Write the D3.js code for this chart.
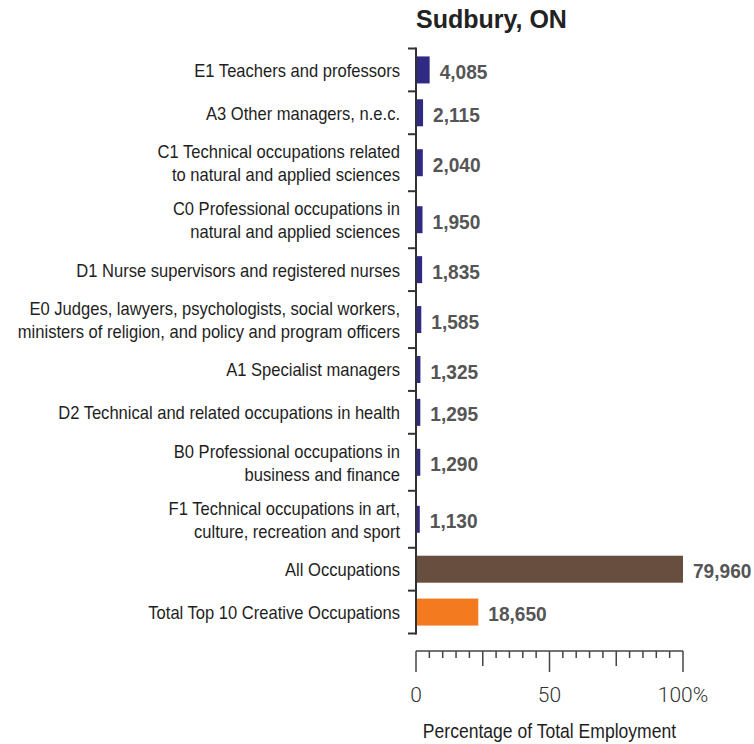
<!DOCTYPE html>
<html>
<head>
<meta charset="utf-8">
<script src="https://cdn.jsdelivr.net/npm/d3@7"></script>
<style>
  html, body { margin: 0; padding: 0; background: #fff; }
  svg { display: block; }
  .cat { font-family: "Liberation Sans", Arial, sans-serif; fill: #1e1e1e; }
  .val { font-family: "Liberation Sans", Arial, sans-serif; font-weight: bold; fill: #555; }
  .tick-label { font-family: Roboto, "Liberation Sans", sans-serif; font-weight: 300; fill: #333; }
</style>
</head>
<body>
<svg id="chart" width="754" height="744"></svg>
<script>
// Top creative occupations in Sudbury, ON (employment counts)
const categories = [
  "E1 Teachers and professors",
  "A3 Other managers, n.e.c.",
  "C1 Technical occupations related\nto natural and applied sciences",
  "C0 Professional occupations in\nnatural and applied sciences",
  "D1 Nurse supervisors and registered nurses",
  "E0 Judges, lawyers, psychologists, social workers,\nministers of religion, and policy and program officers",
  "A1 Specialist managers",
  "D2 Technical and related occupations in health",
  "B0 Professional occupations in\nbusiness and finance",
  "F1 Technical occupations in art,\nculture, recreation and sport",
  "All Occupations",
  "Total Top 10 Creative Occupations"
];
const employment = [4085, 2115, 2040, 1950, 1835, 1585, 1325, 1295, 1290, 1130, 79960, 18650];
const groups = ["occupation", "occupation", "occupation", "occupation", "occupation",
  "occupation", "occupation", "occupation", "occupation", "occupation", "all", "total"];
const xTicks = [0, 50, 100];
const title = "Sudbury, ON";
const xTitle = "Percentage of Total Employment";

const totalEmployment = employment[categories.indexOf("All Occupations")];

const svg = d3.select("#chart");
const x0 = 416, x1 = 683, yTop = 48.5, yBottom = 633.5;

const x = d3.scaleLinear().domain([0, 100]).range([x0, x1]);
const color = d3.scaleOrdinal()
  .domain(["occupation", "all", "total"])
  .range(["#302a85", "#674e3f", "#f47a20"]);

// Condensed lettering: horizontally squeezed text anchored at (tx, ty)
const narrow = (sel, tx, ty, sx) =>
  sel.attr("transform", (d, i) => `translate(${tx(d, i)},${ty(d, i)}) scale(${sx},1)`);

// Band layout: two-line labels get taller bands
const lines = categories.map(c => c.split("\n"));
const weights = lines.map(l => l.length > 1 ? 1.33 : 1);
const bandY = d3.scaleLinear()
  .domain([0, d3.sum(weights)])
  .range([yTop, yBottom]);
const cum = d3.cumsum([0, ...weights]);
const bands = categories.map((c, i) => ({
  name: c,
  lines: lines[i],
  value: employment[i],
  group: groups[i],
  y0: bandY(cum[i]),
  y1: bandY(cum[i + 1])
}));
bands.forEach(b => b.cy = (b.y0 + b.y1) / 2);

const barH = 27;

// Bars
svg.append("g").selectAll("rect").data(bands).join("rect")
  .attr("x", x(0))
  .attr("y", d => d.cy - barH / 2)
  .attr("width", d => x(d.value / totalEmployment * 100) - x(0))
  .attr("height", barH)
  .attr("fill", d => color(d.group));

// Value labels
svg.append("g").selectAll("text").data(bands).join("text")
  .attr("class", "val")
  .attr("font-size", 21)
  .call(narrow, d => x(d.value / totalEmployment * 100) + 10, d => d.cy + 9, 0.91)
  .text(d => d3.format(",")(d.value));

// Category labels
const lineH = 23.5;
const catG = svg.append("g");
bands.forEach(b => {
  const t = catG.append("text")
    .attr("class", "cat")
    .attr("text-anchor", "end")
    .attr("font-size", 18.6)
    .attr("transform", `translate(400,0) scale(0.89,1)`);
  b.lines.forEach((ln, j) => {
    t.append("tspan")
      .attr("x", 0)
      .attr("y", b.cy + 7 + (j - (b.lines.length - 1) / 2) * lineH)
      .text(ln);
  });
});

// Y axis: spine with ticks at band boundaries
const yAxis = svg.append("g").attr("stroke", "#333").attr("fill", "none");
yAxis.append("line")
  .attr("x1", x0).attr("x2", x0)
  .attr("y1", yTop - 1).attr("y2", yBottom + 1)
  .attr("stroke-width", 2);
yAxis.selectAll("line.tk").data(cum).join("line")
  .attr("class", "tk")
  .attr("x1", x0 - 8).attr("x2", x0)
  .attr("y1", d => bandY(d)).attr("y2", d => bandY(d))
  .attr("stroke-width", 2);

// X axis
const axisY = 651;
const xAxis = svg.append("g").attr("stroke", "#444").attr("fill", "none").attr("stroke-width", 1.5);
xAxis.append("line").attr("x1", x0).attr("x2", x1).attr("y1", axisY).attr("y2", axisY);
xAxis.selectAll("line.tk").data(d3.range(0, 101, 5)).join("line")
  .attr("class", "tk")
  .attr("x1", d => x(d)).attr("x2", d => x(d))
  .attr("y1", axisY)
  .attr("y2", d => axisY + (d % 50 === 0 ? 21 : d % 25 === 0 ? 15 : 7));

svg.append("g").selectAll("text").data(xTicks).join("text")
  .attr("class", "tick-label")
  .attr("x", d => x(d))
  .attr("y", 702)
  .attr("text-anchor", "middle")
  .attr("font-size", 21)
  .text(d => d === 100 ? d + "%" : d);

svg.append("text")
  .attr("class", "cat")
  .attr("text-anchor", "middle")
  .attr("font-size", 19.5)
  .attr("transform", `translate(${x(50)},738) scale(0.9,1)`)
  .text(xTitle);

// Title
svg.append("text")
  .attr("x", x0)
  .attr("y", 28)
  .attr("font-family", "'Liberation Sans', Arial, sans-serif")
  .attr("font-weight", "bold")
  .attr("font-size", 25)
  .attr("fill", "#222")
  .text(title);
</script>
</body>
</html>
